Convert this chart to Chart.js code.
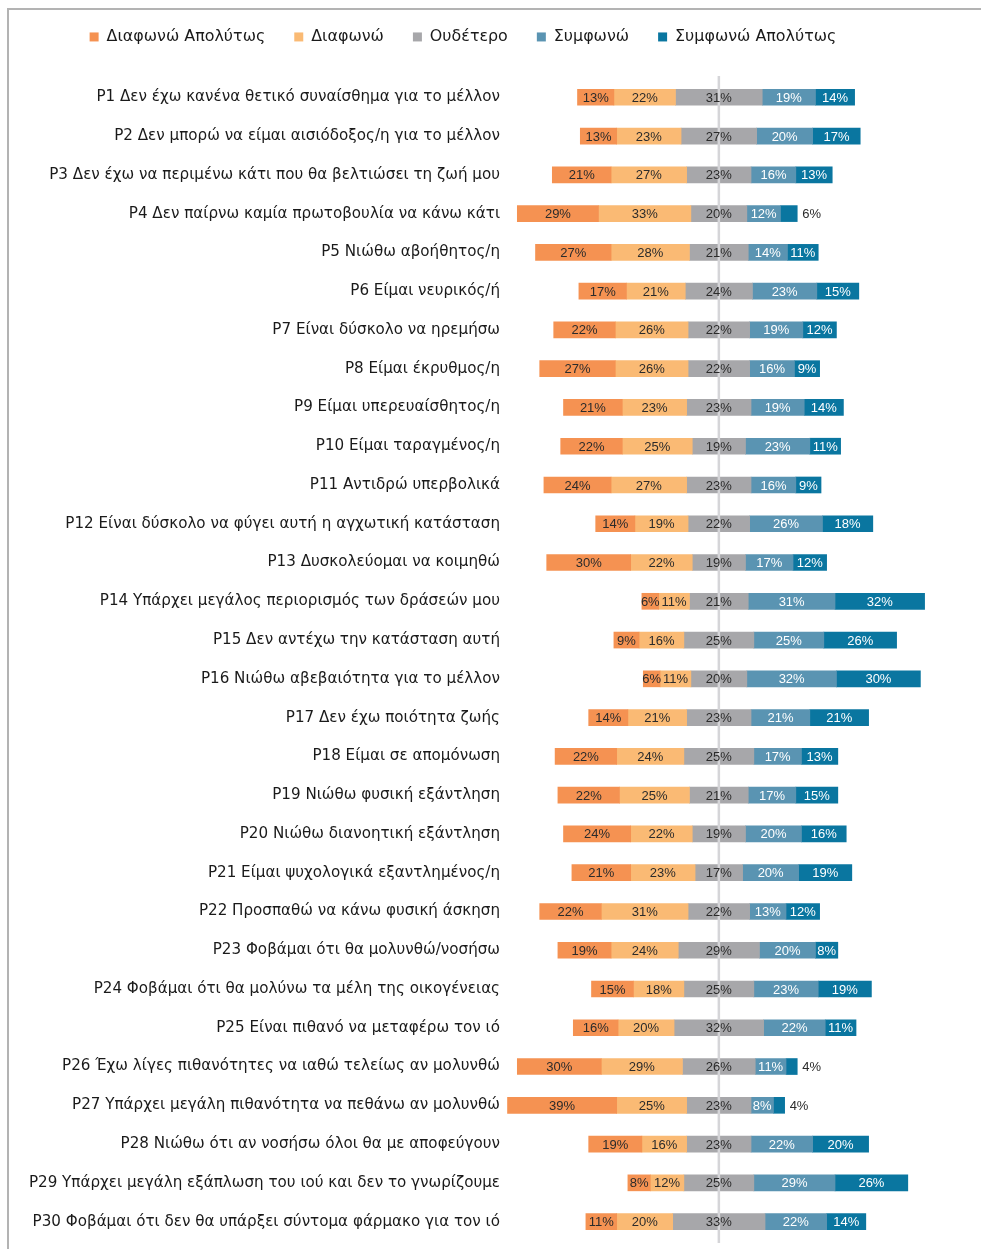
<!DOCTYPE html>
<html>
<head>
<meta charset="utf-8">
<script src="https://cdn.jsdelivr.net/npm/chart.js@4.4.0/dist/chart.umd.min.js"></script>
<style>
  html, body { margin: 0; padding: 0; background: #fff; }
  #frame { position: absolute; left: 7px; top: 8px; width: 1000px; height: 1300px;
           border-top: 2px solid #b3b3b3; border-left: 2px solid #b3b3b3; }
  #chart { position: absolute; left: 0; top: 0; }
</style>
</head>
<body>
<div id="frame"></div>
<canvas id="chart" width="981" height="1249"></canvas>
<script>
const questions = [
  'P1 Δεν έχω κανένα θετικό συναίσθημα για το μέλλον',
  'P2 Δεν μπορώ να είμαι αισιόδοξος/η για το μέλλον',
  'P3 Δεν έχω να περιμένω κάτι που θα βελτιώσει τη ζωή μου',
  'P4 Δεν παίρνω καμία πρωτοβουλία να κάνω κάτι',
  'P5 Νιώθω αβοήθητος/η',
  'P6 Είμαι νευρικός/ή',
  'P7 Είναι δύσκολο να ηρεμήσω',
  'P8 Είμαι έκρυθμος/η',
  'P9 Είμαι υπερευαίσθητος/η',
  'P10 Είμαι ταραγμένος/η',
  'P11 Αντιδρώ υπερβολικά',
  'P12 Είναι δύσκολο να φύγει αυτή η αγχωτική κατάσταση',
  'P13 Δυσκολεύομαι να κοιμηθώ',
  'P14 Υπάρχει μεγάλος περιορισμός των δράσεών μου',
  'P15 Δεν αντέχω την κατάσταση αυτή',
  'P16 Νιώθω αβεβαιότητα για το μέλλον',
  'P17 Δεν έχω ποιότητα ζωής',
  'P18 Είμαι σε απομόνωση',
  'P19 Νιώθω φυσική εξάντληση',
  'P20 Νιώθω διανοητική εξάντληση',
  'P21 Είμαι ψυχολογικά εξαντλημένος/η',
  'P22 Προσπαθώ να κάνω φυσική άσκηση',
  'P23 Φοβάμαι ότι θα μολυνθώ/νοσήσω',
  'P24 Φοβάμαι ότι θα μολύνω τα μέλη της οικογένειας',
  'P25 Είναι πιθανό να μεταφέρω τον ιό',
  'P26 Έχω λίγες πιθανότητες να ιαθώ τελείως αν μολυνθώ',
  'P27 Υπάρχει μεγάλη πιθανότητα να πεθάνω αν μολυνθώ',
  'P28 Νιώθω ότι αν νοσήσω όλοι θα με αποφεύγουν',
  'P29 Υπάρχει μεγάλη εξάπλωση του ιού και δεν το γνωρίζουμε',
  'P30 Φοβάμαι ότι δεν θα υπάρξει σύντομα φάρμακο για τον ιό'
];

const seriesNames = ['Διαφωνώ Απολύτως', 'Διαφωνώ', 'Ουδέτερο', 'Συμφωνώ', 'Συμφωνώ Απολύτως'];
const seriesColors = ['#F59252', '#FABA74', '#A7A7AA', '#5A94B2', '#0A76A0'];
const labelColors = ['#2b2b2b', '#2b2b2b', '#2b2b2b', '#ffffff', '#ffffff'];

const stronglyDisagree = [13, 13, 21, 29, 27, 17, 22, 27, 21, 22, 24, 14, 30, 6, 9, 6, 14, 22, 22, 24, 21, 22, 19, 15, 16, 30, 39, 19, 8, 11];
const disagree         = [22, 23, 27, 33, 28, 21, 26, 26, 23, 25, 27, 19, 22, 11, 16, 11, 21, 24, 25, 22, 23, 31, 24, 18, 20, 29, 25, 16, 12, 20];
const neutral          = [31, 27, 23, 20, 21, 24, 22, 22, 23, 19, 23, 22, 19, 21, 25, 20, 23, 25, 21, 19, 17, 22, 29, 25, 32, 26, 23, 23, 25, 33];
const agree            = [19, 20, 16, 12, 14, 23, 19, 16, 19, 23, 16, 26, 17, 31, 25, 32, 21, 17, 17, 20, 20, 13, 20, 23, 22, 11, 8, 22, 29, 22];
const stronglyAgree    = [14, 17, 13, 6, 11, 15, 12, 9, 14, 11, 9, 18, 12, 32, 26, 30, 21, 13, 15, 16, 19, 12, 8, 19, 11, 4, 4, 20, 26, 14];

const seriesValues = [stronglyDisagree, disagree, neutral, agree, stronglyAgree];

const FONT = '"DejaVu Sans", Verdana, sans-serif';

// each bar is centred on the middle of the neutral segment
const floating = seriesValues.map(() => []);
questions.forEach((q, i) => {
  let start = -(stronglyDisagree[i] + disagree[i] + neutral[i] / 2);
  seriesValues.forEach((vals, s) => {
    floating[s].push([start, start + vals[i]]);
    start += vals[i];
  });
});

// extra space between legend and bars
const legendGap = {
  id: 'legendGap',
  beforeInit(chart) {
    const fit = chart.legend.fit;
    chart.legend.fit = function () {
      fit.bind(chart.legend)();
      this.height += 23;
    };
  }
};

const zeroLine = {
  id: 'zeroLine',
  afterDatasetsDraw(chart) {
    const { ctx, chartArea } = chart;
    const x = chart.scales.x.getPixelForValue(0);
    ctx.save();
    ctx.strokeStyle = '#d5d5d8';
    ctx.lineWidth = 2.5;
    ctx.beginPath();
    ctx.moveTo(x, chartArea.top - 2);
    ctx.lineTo(x, chartArea.bottom + 2);
    ctx.stroke();
    ctx.restore();
  }
};

const barLabels = {
  id: 'barLabels',
  afterDatasetsDraw(chart) {
    const ctx = chart.ctx;
    ctx.save();
    ctx.font = '13px "Liberation Sans", Arial, sans-serif';
    ctx.textBaseline = 'middle';
    seriesValues.forEach((vals, s) => {
      const meta = chart.getDatasetMeta(s);
      meta.data.forEach((bar, i) => {
        const { x, base, y } = bar.getProps(['x', 'base', 'y'], true);
        const text = vals[i] + '%';
        if (s === 4 && vals[i] < 7) {
          ctx.fillStyle = '#2b2b2b';
          ctx.textAlign = 'left';
          ctx.fillText(text, Math.max(x, base) + 5, y + 1);
        } else {
          ctx.fillStyle = labelColors[s];
          ctx.textAlign = 'center';
          ctx.fillText(text, (x + base) / 2, y + 1);
        }
      });
    });
    ctx.restore();
  }
};

new Chart(document.getElementById('chart'), {
  type: 'bar',
  data: {
    labels: questions,
    datasets: seriesNames.map((name, s) => ({
      label: name,
      data: floating[s],
      backgroundColor: seriesColors[s],
      borderWidth: 0,
      barThickness: 16,
      grouped: false
    }))
  },
  options: {
    indexAxis: 'y',
    responsive: false,
    animation: false,
    layout: { padding: { top: 0, right: 55, bottom: 8, left: 0 } },
    scales: {
      x: {
        display: false,
        min: -76.4,
        max: 74
      },
      y: {
        grid: { display: false, drawTicks: false },
        border: { display: false },
        ticks: {
          color: '#1a1a1a',
          padding: 5,
          font: { family: FONT, size: 15.15 }
        },
        afterFit(scale) {
          scale.width = 505;
          scale.paddingTop = 0;
          scale.paddingBottom = 0;
        }
      }
    },
    plugins: {
      legend: {
        position: 'top',
        labels: {
          boxWidth: 9,
          boxHeight: 9,
          padding: 29,
          color: '#1a1a1a',
          font: { family: FONT, size: 15.9 }
        }
      },
      tooltip: { enabled: false }
    }
  },
  plugins: [legendGap, zeroLine, barLabels]
});
</script>
</body>
</html>
